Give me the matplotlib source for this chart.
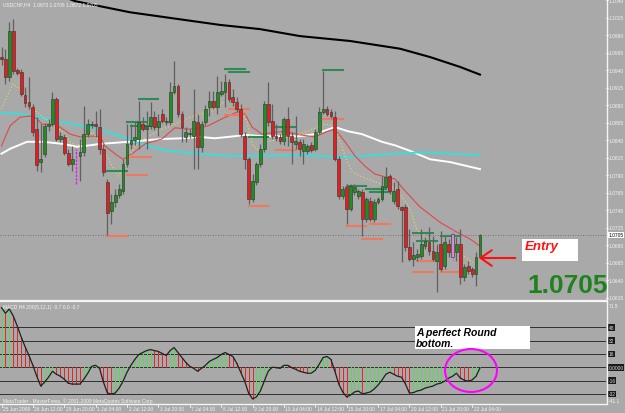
import matplotlib
matplotlib.use("Agg")
import matplotlib.pyplot as plt
from matplotlib.patches import Rectangle, Ellipse, FancyArrowPatch
from matplotlib.transforms import blended_transform_factory
import numpy as np

plt.rcParams['font.family'] = ['Liberation Sans', 'DejaVu Sans']

# 1. Data (USDCHF H4)
opens = [1.0959, 1.0956, 1.0931, 1.0996, 1.0941, 1.0938, 1.0905, 1.0895, 1.0888, 1.0856,
         1.0809, 1.0821, 1.0861, 1.0863, 1.0899, 1.0842, 1.0845, 1.0822, 1.0806, 1.0813,
         1.0818, 1.0823, 1.0849, 1.0862, 1.0863, 1.0859, 1.0828, 1.0781, 1.0739, 1.0752,
         1.0762, 1.0768, 1.0806, 1.0835, 1.0841, 1.0842, 1.0863, 1.0856, 1.0861, 1.0873,
         1.0859, 1.0878, 1.0868, 1.0866, 1.0909, 1.0918, 1.0878, 1.0845, 1.0849, 1.0846,
         1.0866, 1.0831, 1.0866, 1.0888, 1.0896, 1.0888, 1.0906, 1.0909, 1.0923, 1.0902,
         1.0895, 1.0885, 1.0846, 1.0813, 1.0756, 1.0781, 1.0806, 1.0828, 1.0892, 1.0868,
         1.0846, 1.0845, 1.0839, 1.0871, 1.0846, 1.0835, 1.0838, 1.0825, 1.0825, 1.0833,
         1.0828, 1.0852, 1.0881, 1.0885, 1.0881, 1.0873, 1.0813, 1.0761, 1.0773, 1.0742,
         1.0766, 1.0761, 1.0766, 1.0728, 1.0753, 1.0728, 1.0752, 1.0756, 1.0773, 1.0789,
         1.0753, 1.0771, 1.0745, 1.0745, 1.0688, 1.0671, 1.0673, 1.0675, 1.0689, 1.0695,
         1.0682, 1.0668, 1.0692, 1.0661, 1.0692, 1.0673, 1.0681, 1.0692, 1.0645, 1.0661,
         1.0656, 1.0649, 1.0673]
highs = [1.0973, 1.0971, 1.1009, 1.1013, 1.0943, 1.0942, 1.0916, 1.0931, 1.0892, 1.0873,
         1.0863, 1.0865, 1.0871, 1.0909, 1.0902, 1.0852, 1.0849, 1.0828, 1.0832, 1.0828,
         1.0842, 1.0889, 1.0871, 1.0868, 1.0882, 1.0885, 1.0835, 1.0785, 1.0763, 1.0771,
         1.0778, 1.0813, 1.0863, 1.0863, 1.0868, 1.0896, 1.0873, 1.0882, 1.0895, 1.0882,
         1.0878, 1.0885, 1.0873, 1.0923, 1.0953, 1.0921, 1.0882, 1.0859, 1.0856, 1.0913,
         1.0878, 1.0868, 1.0891, 1.0911, 1.0911, 1.0932, 1.0925, 1.0935, 1.0928, 1.0913,
         1.0902, 1.0892, 1.0852, 1.0816, 1.0792, 1.0809, 1.0835, 1.0896, 1.0923, 1.0892,
         1.0863, 1.0849, 1.0873, 1.0888, 1.0852, 1.0875, 1.0842, 1.0842, 1.0835, 1.0838,
         1.0856, 1.0888, 1.0939, 1.0889, 1.0885, 1.0882, 1.0818, 1.0775, 1.0778, 1.0778,
         1.0778, 1.0771, 1.0771, 1.0759, 1.0759, 1.0756, 1.0759, 1.0789, 1.0802, 1.0792,
         1.0781, 1.0782, 1.0746, 1.0749, 1.0713, 1.0695, 1.0685, 1.0713, 1.0702, 1.0716,
         1.0703, 1.0692, 1.0711, 1.0703, 1.0699, 1.0713, 1.0702, 1.0713, 1.0663, 1.0668,
         1.0659, 1.0681, 1.0706]
lows = [1.0948, 1.0921, 1.0925, 1.0935, 1.0933, 1.0903, 1.0888, 1.0885, 1.0846, 1.0796,
        1.0795, 1.0816, 1.0853, 1.0861, 1.0839, 1.0838, 1.0819, 1.0803, 1.0796, 1.0778,
        1.0782, 1.0818, 1.0845, 1.0858, 1.0845, 1.0821, 1.0789, 1.0705, 1.0721, 1.0745,
        1.0758, 1.0763, 1.0802, 1.0828, 1.0833, 1.0828, 1.0853, 1.0828, 1.0856, 1.0855,
        1.0846, 1.0865, 1.0862, 1.0862, 1.0906, 1.0873, 1.0838, 1.0838, 1.0843, 1.0799,
        1.0799, 1.0823, 1.0862, 1.0875, 1.0885, 1.0878, 1.0903, 1.0888, 1.0895, 1.0889,
        1.0881, 1.0845, 1.0799, 1.0749, 1.0752, 1.0776, 1.0802, 1.0823, 1.0861, 1.0842,
        1.0839, 1.0835, 1.0833, 1.0832, 1.0806, 1.0828, 1.0818, 1.0806, 1.0821, 1.0823,
        1.0825, 1.0849, 1.0878, 1.0875, 1.0872, 1.0811, 1.0756, 1.0756, 1.0721, 1.0739,
        1.0762, 1.0756, 1.0703, 1.0723, 1.0725, 1.0723, 1.0749, 1.0753, 1.0771, 1.0763,
        1.0749, 1.0742, 1.0666, 1.0682, 1.0668, 1.0661, 1.0668, 1.0671, 1.0685, 1.0676,
        1.0668, 1.0623, 1.0653, 1.0656, 1.0673, 1.0668, 1.0668, 1.0635, 1.0639, 1.0649,
        1.0645, 1.0632, 1.0672]
closes = [1.0956, 1.0931, 1.0996, 1.0939, 1.0936, 1.0906, 1.0893, 1.0889, 1.0852, 1.0805,
          1.0813, 1.0861, 1.0863, 1.0899, 1.0842, 1.0846, 1.0822, 1.0806, 1.0813, 1.0816,
          1.0823, 1.0849, 1.0863, 1.0863, 1.0861, 1.0828, 1.0795, 1.0736, 1.0752, 1.0762,
          1.0771, 1.0806, 1.0835, 1.0841, 1.0845, 1.0866, 1.0856, 1.0861, 1.0873, 1.0859,
          1.0868, 1.0868, 1.0866, 1.0909, 1.0918, 1.0878, 1.0859, 1.0852, 1.0851, 1.0868,
          1.0831, 1.0863, 1.0885, 1.0896, 1.0888, 1.0909, 1.0911, 1.0923, 1.0899, 1.0895,
          1.0885, 1.0849, 1.0813, 1.0756, 1.0782, 1.0806, 1.0828, 1.0892, 1.0866, 1.0846,
          1.0843, 1.0839, 1.0871, 1.0846, 1.0838, 1.0839, 1.0828, 1.0835, 1.0832, 1.0826,
          1.0852, 1.0881, 1.0885, 1.0878, 1.0875, 1.0813, 1.0761, 1.0771, 1.0742, 1.0775,
          1.0773, 1.0768, 1.0728, 1.0756, 1.0728, 1.0752, 1.0756, 1.0775, 1.0788, 1.0768,
          1.0768, 1.0746, 1.0741, 1.0688, 1.0671, 1.0676, 1.0678, 1.0692, 1.0696, 1.0682,
          1.0671, 1.0681, 1.0656, 1.0695, 1.0681, 1.0706, 1.0692, 1.0645, 1.0659, 1.0653,
          1.0649, 1.0673, 1.0705]
magenta_bar = 19
violet_bar = 115
last_price = 1.0705

# moving averages, read at a few bars
black_bar = [15, 18.7, 32.8, 45.5, 55.7, 65.9, 76.1, 88.9, 101.6, 109.3, 116.9, 122]
black_price = [1.1047, 1.1039, 1.1023, 1.1013, 1.1005, 1.0999, 1.0989, 1.0982, 1.0971, 1.0959, 1.0945, 1.0934]
white_bar = [0, 2.2, 6.5, 10.6, 15.7, 19.2, 22.6, 25.1, 32.3, 40.9, 46.0, 50.6, 54.4, 59.5,
             62.1, 66.4, 71.5, 76.1, 79.9, 85.0, 88.4, 91.9, 97.0, 100.3, 104.2, 109.3, 114.4, 122]
white_price = [1.0821, 1.0828, 1.0838, 1.0838, 1.0835, 1.0831, 1.0833, 1.0835, 1.0838, 1.0842,
               1.0843, 1.0845, 1.0843, 1.0846, 1.0848, 1.0846, 1.0846, 1.0846, 1.0849, 1.0859,
               1.0853, 1.0849, 1.0838, 1.0833, 1.0825, 1.0813, 1.0809, 1.0799]
cyan_bar = [0, 4.7, 8.0, 13.1, 18.2, 22.6, 25.1, 32.3, 37.4, 42.5, 50.6, 57.8, 66.4, 76.1,
            87.6, 100.3, 107.5, 122]
cyan_price = [1.0879, 1.0878, 1.0875, 1.0869, 1.0863, 1.0859, 1.0856, 1.0842, 1.0832, 1.0825,
              1.0821, 1.0818, 1.0818, 1.0819, 1.0816, 1.0821, 1.0823, 1.0819]
red_bar = [0, 2.2, 4.7, 7.3, 9.1, 10.3, 12.4, 14.9, 17.5, 20.0, 22.6, 25.1, 26.4, 28.9, 31.0,
           33.3, 36.6, 40.9, 44.2, 47.6, 50.6, 52.7, 57.0, 60.3, 62.1, 63.9, 66.4, 69.0, 72.3,
           76.1, 79.9, 83.2, 85.0, 87.6, 90.1, 92.7, 95.2, 97.8, 100.3, 102.4, 106.7, 111.8,
           116.1, 119.5, 122]
red_price = [1.0832, 1.0861, 1.0873, 1.0875, 1.0871, 1.0863, 1.0863, 1.0859, 1.0849, 1.0845,
             1.0846, 1.0846, 1.0832, 1.0821, 1.0813, 1.0821, 1.0835, 1.0842, 1.0858, 1.0856,
             1.0858, 1.0861, 1.0873, 1.0881, 1.0878, 1.0859, 1.0849, 1.0851, 1.0853, 1.0848,
             1.0845, 1.0853, 1.0856, 1.0838, 1.0818, 1.0803, 1.0792, 1.0788, 1.0785, 1.0771,
             1.0745, 1.0723, 1.0709, 1.0699, 1.0689]
yellow_bar = [0, 1.4, 2.9, 4.7, 6.5, 8.0, 11.1, 15.7, 17.5, 19.2, 20.8, 23.3, 25.6, 28.2,
              29.7, 31.5, 34.0, 37.4, 40.9, 44.2, 48.1, 53.7, 57.0, 60.3, 62.6, 64.1, 66.4,
              67.7, 71.0, 76.1, 82.5, 85.0, 87.6, 89.4, 91.9, 96.5, 100.8, 104.2, 105.9,
              110.0, 116.1, 120.2]
yellow_price = [1.0885, 1.0903, 1.0921, 1.0913, 1.0899, 1.0885, 1.0871, 1.0852, 1.0838, 1.0832,
                1.0838, 1.0852, 1.0832, 1.0803, 1.0789, 1.0803, 1.0832, 1.0846, 1.0856, 1.0863,
                1.0873, 1.0882, 1.0896, 1.0892, 1.0866, 1.0832, 1.0823, 1.0838, 1.0842, 1.0849,
                1.0863, 1.0861, 1.0818, 1.0795, 1.0788, 1.0778, 1.0771, 1.0742, 1.0713, 1.0692,
                1.0681, 1.0666]

# fractal levels (start bar, price)
green_bar = [35, 32, 33, 27, 57, 58, 63, 70, 82, 88, 93, 94, 105, 106, 112]
green_price = [1.0899, 1.0866, 1.0861, 1.0796, 1.0942, 1.0938, 1.0845, 1.0859, 1.0941, 1.0775,
               1.0771, 1.0766, 1.0708, 1.0696, 1.0703]
salmon_bar = [33, 32, 27, 58, 57, 63, 70, 82, 88, 94, 92, 106, 105, 112]
salmon_price = [1.0816, 1.0791, 1.0703, 1.0885, 1.0876, 1.0746, 1.0826, 1.0871, 1.0718, 1.0721,
                1.0699, 1.0668, 1.0652, 1.0652]

# MACD(5,12,1) histogram
macd = [71.5, 65.0, 70.0, 61.6, 49.8, 36.7, 24.9, 14.2, 2.4, -10.7,
        -22.5, -17.8, -11.8, -4.7, -8.3, -10.7, -14.2, -19.0, -20.1, -20.1,
        -20.1, -14.2, -7.1, 1.2, 2.4, -1.2, -17.8, -30.8, -32.0, -30.8,
        -24.9, -16.6, -5.9, 2.4, 9.5, 15.4, 17.8, 20.1, 21.3, 20.1,
        19.0, 16.6, 14.2, 20.1, 23.7, 17.8, 11.8, 5.9, 1.2, -1.2,
        -4.7, -1.2, 2.4, 7.1, 9.5, 11.8, 15.4, 17.8, 15.4, 13.0,
        4.7, -5.9, -16.6, -30.8, -37.9, -35.5, -28.4, -16.6, -4.7, 0.0,
        -0.2, -1.2, 2.4, 2.4, -0.3, -2.4, -4.7, -5.9, -7.1, -7.0,
        -3.6, 3.6, 11.8, 13.0, 9.5, -4.7, -20.1, -29.6, -35.5, -33.2,
        -29.6, -28.4, -32.0, -30.8, -29.6, -26.1, -21.3, -15.4, -8.3, -5.9,
        -8.3, -10.7, -11.8, -20.1, -30.8, -30.4, -28.4, -27.3, -24.9, -23.7,
        -22.5, -20.1, -19.0, -16.6, -13.0, -10.7, -7.1, -13.0, -15.4, -16.6,
        -15.1, -10.7, -0.7]
macd_levels = [48, 32, 16, 0, -16, -32]
macd_level_labels = ["48", "32", "16", "0.0000", "-16", "-32"]

price_ticks = [1.1040, 1.1015, 1.0990, 1.0965, 1.0940, 1.0915, 1.0890, 1.0865, 1.0840,
               1.0815, 1.0790, 1.0765, 1.0740, 1.0715, 1.0690, 1.0665, 1.0640, 1.0615]
time_labels = ["25 Jun 2009", "26 Jun 12:00", "29 Jun 20:00", "1 Jul 04:00", "2 Jul 12:00",
               "3 Jul 20:00", "7 Jul 04:00", "8 Jul 12:00", "9 Jul 20:00", "13 Jul 04:00",
               "14 Jul 12:00", "15 Jul 20:00", "17 Jul 04:00", "20 Jul 12:00", "21 Jul 20:00",
               "22 Jul 04:00"]
time_label_step = 8

# 2. Layout (pixel helpers)
W, H = 625, 414
BG = '#A9A9A9'
SMALL = 3.5
def fx(x):
    return x / W
def fy(y):
    return 1 - y / H

fig = plt.figure(figsize=(W / 100, H / 100), dpi=100, facecolor=BG)
ax = fig.add_axes([0, fy(300), fx(606), 300 / H])
mx = fig.add_axes([0, fy(405), fx(606), 102 / H])
xlim = (-0.3825, 154.13)
for a in (ax, mx):
    a.set_facecolor(BG)
    a.set_xlim(*xlim)
    a.set_axis_off()
ax.set_ylim(1.1042 - 300 / 7000, 1.1042)
mx.set_ylim(-44.0, 78.4)

n = len(closes)
idx = np.arange(n)

# 3. Indicator lines under candles
ax.plot(black_bar, black_price, color='black', lw=1.5, zorder=2)
ax.plot(white_bar, white_price, color='white', lw=1.4, zorder=2)
ax.plot(cyan_bar, cyan_price, color='#33E0E0', lw=1.3, zorder=2)
ax.plot(red_bar, red_price, color='#E04848', lw=0.8, zorder=2)
ax.plot(yellow_bar, yellow_price, color='#E8E040', lw=0.8, ls=(0, (1, 2)), zorder=2)
for b, p in zip(green_bar, green_price):
    ax.plot([b, b + 5], [p, p], color='#2E8B57', lw=1.5, zorder=2)
for b, p in zip(salmon_bar, salmon_price):
    ax.plot([b, b + 5], [p, p], color='#F07860', lw=1.5, zorder=2)
ax.axhline(last_price, color='#606060', lw=0.6, ls=(0, (1, 2)), zorder=1)

# 4. Candles
for i in range(n):
    o, h, l, c = opens[i], highs[i], lows[i], closes[i]
    if i == magenta_bar:
        ax.vlines(i, l, h, color='#FF00FF', lw=0.9, ls=(0, (2, 1)), zorder=3)
        continue
    wick = '#C080C0' if i == violet_bar else '#606060'
    ax.vlines(i, min(l, o, c), max(h, o, c), color=wick, lw=0.9, zorder=3)
    if i == violet_bar:
        face = '#D090D0'
    else:
        face = '#1F8F1F' if c >= o else '#E41E1E'
    body = max(abs(c - o), 0.00012)
    ax.bar(i, body, bottom=min(o, c), width=0.72, color=face,
           edgecolor='#303030', linewidth=0.4, zorder=4)

# 5. MACD panel
for lv in macd_levels:
    mx.axhline(lv, color='#333333', lw=0.72, zorder=1, antialiased=False)
cols = ['#4EE04E' if i == 0 or macd[i] > macd[i - 1] else '#E02828' for i in range(n)]
mx.vlines(idx, 0, macd, colors=cols, lw=0.5, zorder=2, antialiased=False)
mx.plot(idx, macd, color='#202020', lw=0.9, zorder=3)

# 6. Frame lines
white = '#F4F4F4'
fig.add_artist(plt.Line2D([0, fx(606)], [fy(301.5)] * 2, color=white, lw=1.6))
fig.add_artist(plt.Line2D([0, fx(606)], [fy(405)] * 2, color=white, lw=1.0))
fig.add_artist(plt.Line2D([fx(606.5)] * 2, [fy(0), fy(405)], color=white, lw=1.0))

# 7. Axis labels
tr = blended_transform_factory(fig.transFigure, ax.transData)
for p in price_ticks:
    fig.add_artist(plt.Line2D([fx(606), fx(608)], [p, p], transform=tr, color=white, lw=0.6))
    ax.text(fx(608.5), p, f"{p:.4f}", transform=tr, fontsize=SMALL, color=white,
            va='center', ha='left', clip_on=False)
ax.text(fx(608.5), last_price, f"{last_price:.4f}", transform=tr, fontsize=SMALL, color='black',
        va='center', ha='left', clip_on=False,
        bbox=dict(boxstyle='square,pad=0.15', fc='white', ec='none'))

trm = blended_transform_factory(fig.transFigure, mx.transData)
for lv, lab in zip(macd_levels, macd_level_labels):
    mx.text(fx(608.5), lv, lab, transform=trm, fontsize=SMALL, color='#DDDDDD', va='center',
            ha='left', clip_on=False,
            bbox=dict(boxstyle='square,pad=0.15', fc='#1A1A1A', ec='none'))
fig.text(fx(609), fy(307), "71.5", fontsize=SMALL, color=white, va='center')
fig.text(fx(609), fy(402), "-41.1", fontsize=SMALL, color=white, va='center')

trt = blended_transform_factory(mx.transData, fig.transFigure)
for k, lab in enumerate(time_labels):
    b = k * time_label_step
    fig.add_artist(plt.Line2D([b, b], [fy(405), fy(408)], transform=trt, color=white, lw=0.6))
    mx.text(b + 0.4, fy(410), lab, transform=trt, fontsize=SMALL, color=white,
            va='center', ha='left', clip_on=False)

fig.text(fx(3), fy(5), "USDCHF,H4  1.0673 1.0706 1.0672 1.0705", fontsize=SMALL,
         color=white, va='center')
fig.text(fx(3), fy(308), "MACD H4 200(5,12,1) -0.7 0.0 -0.7", fontsize=SMALL,
         color=white, va='center')
fig.text(fx(3), fy(401), "MetaTrader - MasterForex, \u00a9 2001-2009 MetaQuotes Software Corp.",
         fontsize=SMALL, color=white, va='center')

# 8. Annotations
fig.add_artist(Rectangle((fx(522), fy(262)), 56 / W, 22 / H, transform=fig.transFigure,
                         fc='white', ec='none'))
fig.text(fx(525), fy(247), "Entry", fontsize=9.5, color='#FF1010', fontweight='bold',
         fontstyle='italic', va='center')
fig.add_artist(FancyArrowPatch((fx(518), fy(259)), (fx(476), fy(259)),
                               transform=fig.transFigure, color='#FF1010', lw=1.5,
                               arrowstyle='->,head_length=0.4,head_width=0.28',
                               mutation_scale=20))
fig.text(fx(527), fy(286), "1.0705", fontsize=19, color='#1E821E', fontweight='bold',
         va='center', ha='left')

fig.add_artist(Rectangle((fx(415), fy(350)), 115 / W, 23 / H, transform=fig.transFigure,
                         fc='white', ec='none'))
fig.text(fx(416), fy(333), "A perfect Round", fontsize=7.5, fontweight='bold',
         fontstyle='italic', color='black', va='center')
fig.text(fx(416), fy(344), "bottom.", fontsize=7.5, fontweight='bold',
         fontstyle='italic', color='black', va='center')
fig.add_artist(Ellipse((fx(471), fy(371.5)), 52 / W, 43 / H, transform=fig.transFigure,
                       fill=False, ec='#FF00FF', lw=1.5))

fig.savefig("out.png", dpi=100, facecolor=BG)
plt.close(fig)
